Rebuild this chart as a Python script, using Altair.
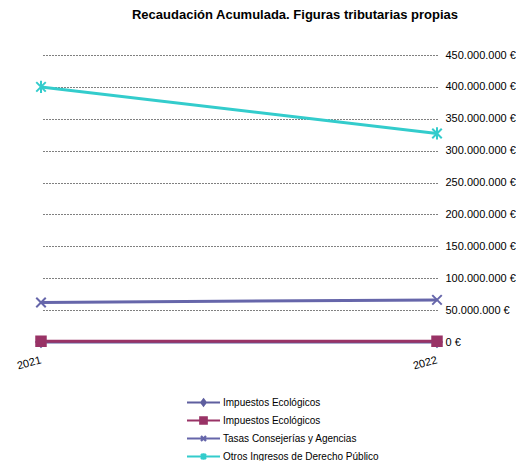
import altair as alt
import pandas as pd

years = ["2021", "2022"]
series = [
    "Impuestos Ecológicos",
    "Impuestos Ecológicos ",
    "Tasas Consejerías y Agencias",
    "Otros Ingresos de Derecho Público",
]
imp_eco_a = [0, 0]
imp_eco_b = [1_000_000, 1_000_000]
tasas = [62_000_000, 66_000_000]
otros = [400_000_000, 327_000_000]
colors = ["#5f5f9f", "#993366", "#6666aa", "#33cccc"]
y_ticks = [0, 50_000_000, 100_000_000, 150_000_000, 200_000_000,
           250_000_000, 300_000_000, 350_000_000, 400_000_000, 450_000_000]

chart_shapes = [
    "diamond",
    "square",
    "M-1,-1L1,1M-1,1L1,-1",
    "M-1,-1L1,1M-1,1L1,-1M0,-1.3L0,1.3",
]
legend_shapes = [
    "M-3.3,0H3.3M0,-0.6L0.45,0L0,0.6L-0.45,0Z",
    "M-3.3,0H3.3M-0.65,-0.65H0.65V0.65H-0.65Z",
    "M-3.3,0H3.3M-0.5,-0.5L0.5,0.5M-0.5,0.5L0.5,-0.5",
    "M-3.3,0H3.3M-0.5,-0.5L0.5,0.5M-0.5,0.5L0.5,-0.5M0,-0.65L0,0.65",
]

values = [imp_eco_a, imp_eco_b, tasas, otros]
rows = []
for s, vals in zip(series, values):
    for yr, v in zip(years, vals):
        rows.append({"anio": yr, "serie": s, "valor": v})
df = pd.DataFrame(rows)

font = "Liberation Sans"

x_enc = alt.X(
    "anio:N",
    scale=alt.Scale(paddingOuter=0, padding=0),
    axis=alt.Axis(
        title=None, labelAngle=-15, domain=False, ticks=True, tickSize=4,
        tickColor="#000000", labelFont=font, labelFontSize=11,
        labelColor="#000000", grid=False, labelPadding=8, labelOffset=-2,
    ),
)
y_enc = alt.Y(
    "valor:Q",
    scale=alt.Scale(domain=[0, 450_000_000], nice=False),
    axis=alt.Axis(
        title=None, orient="right", values=y_ticks, domain=False, ticks=False,
        labelPadding=8, labelFont=font, labelFontSize=11, labelColor="#000000",
        grid=True, gridColor="#000000", gridDash=[1, 2], gridWidth=1,
        labelExpr="replace(format(datum.value, ',.0f'), /,/g, '.') + ' €'",
    ),
)
color_scale = alt.Scale(domain=series, range=colors)

lines = alt.Chart(df).mark_line(strokeWidth=3).encode(
    x=x_enc, y=y_enc,
    color=alt.Color("serie:N", scale=color_scale, legend=None),
    detail="serie:N",
)

points = alt.Chart(df).mark_point(filled=True, size=90, strokeWidth=2, opacity=1).encode(
    x=x_enc, y=y_enc,
    fill=alt.Fill("serie:N", scale=color_scale, legend=None),
    stroke=alt.Stroke("serie:N", scale=color_scale, legend=None),
    shape=alt.Shape("serie:N", scale=alt.Scale(domain=series, range=chart_shapes), legend=None),
)

leg = alt.Legend(
    title=None, orient="none", legendX=156, legendY=341, direction="vertical",
    symbolSize=100, symbolStrokeWidth=2.2, labelOffset=13, rowPadding=2,
    labelFont=font, labelFontSize=10, labelColor="#000000", padding=0,
)

legend_layer = alt.Chart(df).transform_filter("false").mark_point(filled=True, opacity=1).encode(
    fill=alt.Fill("serie:N", scale=color_scale, legend=leg),
    stroke=alt.Stroke("serie:N", scale=color_scale, legend=leg),
    shape=alt.Shape("serie:N", scale=alt.Scale(domain=series, range=legend_shapes), legend=leg),
)

chart = alt.layer(lines, points, legend_layer).resolve_scale(
    shape="independent", fill="independent", stroke="independent"
).properties(
    width=396,
    height=287,
    autosize=alt.AutoSizeParams(type="none"),
    padding={"left": 33, "top": 47, "right": 79, "bottom": 119},
    title=alt.TitleParams(
        "Recaudación Acumulada. Figuras tributarias propias",
        font=font, fontSize=13, fontWeight="bold", color="#000000",
        anchor="middle", dx=56, offset=27,
    ),
).configure_view(stroke=None)

chart.save("out.html", embed_options={"renderer": "svg", "actions": False})
